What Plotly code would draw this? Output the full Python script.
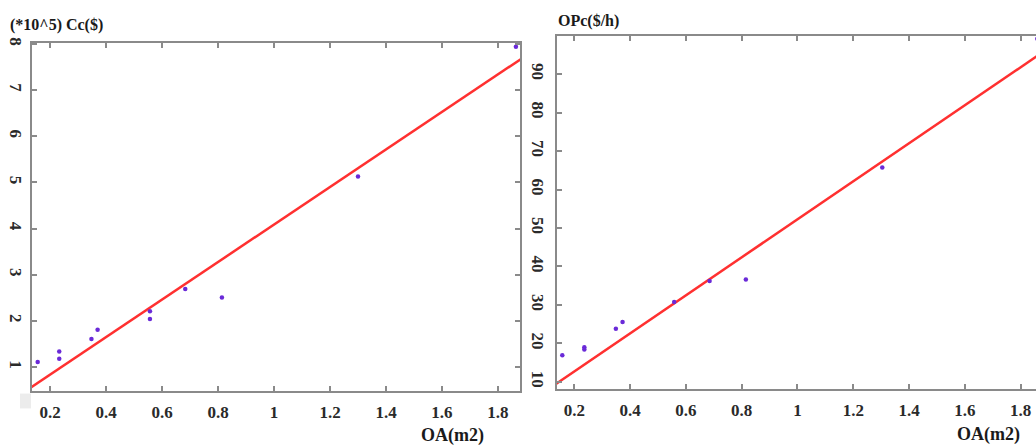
import plotly.graph_objects as go

# ---- data ----
oa_cc = [0.156, 0.233, 0.233, 0.348, 0.370, 0.557, 0.557, 0.683, 0.814, 1.300, 1.864]
cc = [1.11, 1.34, 1.18, 1.61, 1.81, 2.21, 2.04, 2.69, 2.51, 5.13, 7.94]
cc_fit_x = [0.10, 1.95]
cc_fit_y = [0.43, 7.95]  # y = 4.07x + 0.02

oa_op = [0.157, 0.236, 0.236, 0.349, 0.373, 0.558, 0.685, 0.815, 1.304, 1.860]
opc = [16.9, 19.0, 18.4, 23.8, 25.6, 30.8, 36.2, 36.6, 65.7, 99.2]
op_fit_x = [0.10, 1.95]
op_fit_y = [7.8, 99.2]  # y = 49.4x + 2.9

x_ticks = [0.2, 0.4, 0.6, 0.8, 1.0, 1.2, 1.4, 1.6, 1.8]
x_labels = ["0.2", "0.4", "0.6", "0.8", "1", "1.2", "1.4", "1.6", "1.8"]
cc_ticks = [1, 2, 3, 4, 5, 6, 7, 8]
op_ticks = [10, 20, 30, 40, 50, 60, 70, 80, 90]

RED = "#ff3030"
PURPLE = "#6a2ad8"
AXIS = "#8a8a8a"
FONT = "Liberation Serif"

W, H = 1036, 446

fig = go.Figure()
fig.add_trace(go.Scatter(x=cc_fit_x, y=cc_fit_y, mode="lines",
                         line=dict(color=RED, width=2.5), xaxis="x", yaxis="y"))
fig.add_trace(go.Scatter(x=oa_cc, y=cc, mode="markers",
                         marker=dict(color=PURPLE, size=4.5), xaxis="x", yaxis="y"))
fig.add_trace(go.Scatter(x=op_fit_x, y=op_fit_y, mode="lines",
                         line=dict(color=RED, width=2.5), xaxis="x2", yaxis="y2"))
fig.add_trace(go.Scatter(x=oa_op, y=opc, mode="markers",
                         marker=dict(color=PURPLE, size=4.5), xaxis="x2", yaxis="y2"))

tickfont = dict(family=FONT, size=17, color="#2a2a2a", weight="bold")
common = dict(showgrid=False, zeroline=False, showline=True, linecolor=AXIS,
              linewidth=2, ticks="inside", ticklen=5, tickwidth=1.5,
              tickcolor=AXIS, tickfont=tickfont)

def px_x(p):
    return p / W

def px_y(p):
    return 1 - p / H

fig.update_layout(
    width=W, height=H, margin=dict(l=0, r=0, t=0, b=0),
    paper_bgcolor="white", plot_bgcolor="white", showlegend=False,
    font=dict(family=FONT),
    xaxis=dict(domain=[px_x(32), px_x(520)], range=[0.1357, 1.8786],
               tickvals=x_ticks, ticktext=x_labels, mirror="ticks",
               ticklabelstandoff=5, anchor="y", **common),
    yaxis=dict(domain=[px_y(390), px_y(38)], range=[0.49, 8.03],
               tickvals=cc_ticks, tickangle=90, mirror="ticks",
               ticklabelstandoff=0, anchor="x", **common),
    xaxis2=dict(domain=[px_x(557), 1.0], range=[0.138, 1.855],
                tickvals=x_ticks, ticktext=x_labels, mirror="ticks",
                ticklabelstandoff=5, anchor="y2", **common),
    yaxis2=dict(domain=[px_y(388), px_y(31)], range=[8.25, 100.0],
                tickvals=op_ticks, tickangle=90, mirror=False,
                ticklabelstandoff=3, anchor="x2", **common),
)

titlefont = dict(family=FONT, size=16, color="#1a1a1a", weight="bold")
fig.add_annotation(text="(*10^5) Cc($)", x=px_x(8), y=px_y(20),
                   xref="paper", yref="paper", xanchor="left", yanchor="middle",
                   showarrow=False, font=titlefont)
fig.add_annotation(text="OPc($/h)", x=px_x(556), y=px_y(16),
                   xref="paper", yref="paper", xanchor="left", yanchor="middle",
                   showarrow=False, font=titlefont)
oafont = dict(family=FONT, size=18, color="#1a1a1a", weight="bold")
fig.add_annotation(text="OA(m2)", x=px_x(452), y=px_y(435),
                   xref="paper", yref="paper", xanchor="center", yanchor="middle",
                   showarrow=False, font=oafont)
fig.add_annotation(text="OA(m2)", x=px_x(988), y=px_y(434),
                   xref="paper", yref="paper", xanchor="center", yanchor="middle",
                   showarrow=False, font=oafont)

# light grey patch at bottom-left corner of left panel
fig.add_shape(type="rect", xref="paper", yref="paper",
              x0=px_x(20), x1=px_x(31), y0=px_y(408), y1=px_y(393),
              fillcolor="#ececec", line=dict(width=0), layer="below")

fig.write_html(
    "out.html",
    config={"displayModeBar": False},
    post_script="document.body.style.margin='0';document.body.style.overflow='hidden';",
)
